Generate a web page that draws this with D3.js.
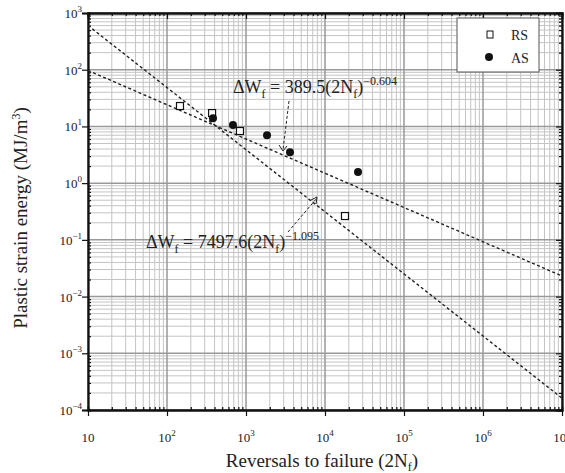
<!DOCTYPE html>
<html><head><meta charset="utf-8">
<script src="https://cdn.jsdelivr.net/npm/d3@7"></script>
<style>body{margin:0;background:#fff}svg text{font-family:"Liberation Serif","Times New Roman",serif;fill:#222}</style>
</head><body><svg id="c" width="565" height="473"></svg>
<script>
// Data
const xDomain = [10, 1e7];
const yDomain = [1e-4, 1e3];
const xTickExps = [1,2,3,4,5,6,7];
const yTickExps = [-4,-3,-2,-1,0,1,2,3];
const rsX = [146, 372, 839, 17900];
const rsY = [22.9, 17.2, 8.3, 0.263];
const asX = [382, 684, 1845, 3606, 26180];
const asY = [14, 10.6, 7.0, 3.5, 1.57];
// fitted power laws: y = A * x^B
const fitA = [389.5, 7497.6];
const fitB = [-0.604, -1.095];
const fitLabels = ["389.5", "7497.6"];
const fitExpLabels = ["\u22120.604", "\u22121.095"];

const svg = d3.select("#c");
const m = {l:88, r:562, t:13, b:410};
const x = d3.scaleLog().domain(xDomain).range([m.l, m.r]);
const y = d3.scaleLog().domain(yDomain).range([m.b, m.t]);

// grid
const minorX = [], minorY = [];
for (let e = 1; e < 7; e++) for (let k = 2; k <= 9; k++) minorX.push(k*Math.pow(10,e));
for (let e = -4; e < 3; e++) for (let k = 2; k <= 9; k++) minorY.push(k*Math.pow(10,e));
const g = svg.append("g");
g.selectAll(".mx").data(minorX).join("line").attr("x1",d=>x(d)).attr("x2",d=>x(d)).attr("y1",m.t).attr("y2",m.b).attr("stroke","#c4c4c4").attr("stroke-width",1);
g.selectAll(".my").data(minorY).join("line").attr("y1",d=>y(d)).attr("y2",d=>y(d)).attr("x1",m.l).attr("x2",m.r).attr("stroke","#c4c4c4").attr("stroke-width",1);
g.selectAll(".Mx").data(xTickExps).join("line").attr("x1",d=>x(Math.pow(10,d))).attr("x2",d=>x(Math.pow(10,d))).attr("y1",m.t).attr("y2",m.b).attr("stroke","#999").attr("stroke-width",1.5);
g.selectAll(".My").data(yTickExps).join("line").attr("y1",d=>y(Math.pow(10,d))).attr("y2",d=>y(Math.pow(10,d))).attr("x1",m.l).attr("x2",m.r).attr("stroke","#999").attr("stroke-width",1.5);

// axes
const tv = e => Math.pow(10,e);
const xb = d3.axisBottom(x).tickValues(xTickExps.map(tv)).tickFormat("").tickSizeInner(6).tickSizeOuter(0);
const xbm = d3.axisBottom(x).tickValues(minorX).tickFormat("").tickSize(-3);
const xt = d3.axisTop(x).tickValues(xTickExps.map(tv)).tickFormat("").tickSize(-6);
const xtm = d3.axisTop(x).tickValues(minorX).tickFormat("").tickSize(-3);
const yl = d3.axisLeft(y).tickValues(yTickExps.map(tv)).tickFormat("").tickSize(6);
const ylm = d3.axisLeft(y).tickValues(minorY).tickFormat("").tickSize(-3);
const yr = d3.axisRight(y).tickValues(yTickExps.map(tv)).tickFormat("").tickSize(-6);
const yrm = d3.axisRight(y).tickValues(minorY).tickFormat("").tickSize(-3);
svg.append("g").attr("transform",`translate(0,${m.b})`).call(xb);
svg.append("g").attr("transform",`translate(0,${m.b})`).call(xbm);
svg.append("g").attr("transform",`translate(0,${m.t})`).call(xt);
svg.append("g").attr("transform",`translate(0,${m.t})`).call(xtm);
svg.append("g").attr("transform",`translate(${m.l},0)`).call(yl);
svg.append("g").attr("transform",`translate(${m.l},0)`).call(ylm);
svg.append("g").attr("transform",`translate(${m.r},0)`).call(yr);
svg.append("g").attr("transform",`translate(${m.r},0)`).call(yrm);
svg.selectAll(".domain").attr("stroke","#111").attr("stroke-width",1.8);
svg.selectAll(".tick line").attr("stroke","#111").attr("stroke-width",1.2);

// tick labels
function powLabel(sel, base, exp) {
  sel.append("tspan").text(base);
  if (exp !== null) sel.append("tspan").attr("dy",-6).attr("font-size",9).text(exp);
}
xTickExps.forEach(e => {
  const t = svg.append("text").attr("x", x(tv(e))).attr("y", 442).attr("text-anchor","middle").attr("font-size",13);
  if (e === 1) powLabel(t, "10", null); else powLabel(t, "10", String(e));
});
yTickExps.forEach(e => {
  const t = svg.append("text").attr("x", 82).attr("y", y(tv(e))+5).attr("text-anchor","end").attr("font-size",13);
  powLabel(t, "10", e < 0 ? "\u2212"+(-e) : String(e));
});

// axis titles
const xtTitle = svg.append("text").attr("x",322).attr("y",467).attr("text-anchor","middle").attr("font-size",19);
xtTitle.append("tspan").text("Reversals to failure (2N");
xtTitle.append("tspan").attr("dy",4).attr("font-size",12).text("f");
xtTitle.append("tspan").attr("dy",-4).text(")");
const ytTitle = svg.append("text").attr("transform",`translate(27,218) rotate(-90)`).attr("text-anchor","middle").attr("font-size",19);
ytTitle.append("tspan").text("Plastic strain energy (MJ/m");
ytTitle.append("tspan").attr("dy",-7).attr("font-size",12).text("3");
ytTitle.append("tspan").attr("dy",7).text(")");

// clip
svg.append("clipPath").attr("id","pc").append("rect").attr("x",m.l).attr("y",m.t).attr("width",m.r-m.l).attr("height",m.b-m.t);

// fitted lines
const line = d3.line().x(d=>x(d[0])).y(d=>y(d[1]));
fitA.forEach((A,i) => {
  const pts = xDomain.map(v => [v, A*Math.pow(v, fitB[i])]);
  svg.append("path").attr("d", line(pts)).attr("clip-path","url(#pc)").attr("fill","none").attr("stroke","#222").attr("stroke-width",1.4).attr("stroke-dasharray","3,2.5");
});

// points
svg.selectAll(".rs").data(rsX.map((v,i)=>[v,rsY[i]])).join("rect")
  .attr("x",d=>x(d[0])-3.5).attr("y",d=>y(d[1])-3.5).attr("width",7).attr("height",7)
  .attr("fill","#fff").attr("stroke","#111").attr("stroke-width",1.2);
svg.selectAll(".as").data(asX.map((v,i)=>[v,asY[i]])).join("circle")
  .attr("cx",d=>x(d[0])).attr("cy",d=>y(d[1])).attr("r",4).attr("fill","#111");

// equation labels
function eqLabel(px, py, i) {
  const t = svg.append("text").attr("x",px).attr("y",py).attr("font-size",18);
  t.append("tspan").text("\u0394W");
  t.append("tspan").attr("dy",5).attr("font-size",12).text("f");
  t.append("tspan").attr("dy",-5).text(" = " + fitLabels[i] + "(2N");
  t.append("tspan").attr("dy",5).attr("font-size",12).text("f");
  t.append("tspan").attr("dy",-5).text(")");
  t.append("tspan").attr("dy",-8).attr("font-size",12).text(fitExpLabels[i]);
}
eqLabel(233, 93, 0);
eqLabel(146, 248, 1);
// leader lines
svg.append("path").attr("d","M289,101 L283,150").attr("stroke","#222").attr("stroke-dasharray","3,2").attr("fill","none");
svg.append("path").attr("d","M279,145 L283,151 L287,146").attr("stroke","#222").attr("fill","none");
svg.append("path").attr("d","M288,232 L317,198").attr("stroke","#222").attr("stroke-dasharray","3,2").attr("fill","none");
svg.append("path").attr("d","M311,200 L317,197 L316,204").attr("stroke","#222").attr("fill","none");

// legend
svg.append("rect").attr("x",457).attr("y",18).attr("width",82).attr("height",54).attr("fill","#fff").attr("stroke","#555");
svg.append("rect").attr("x",487).attr("y",31).attr("width",6).attr("height",7).attr("fill","#fff").attr("stroke","#111");
svg.append("circle").attr("cx",489).attr("cy",57).attr("r",4).attr("fill","#111");
svg.append("text").attr("x",511).attr("y",40).attr("font-size",14).text("RS");
svg.append("text").attr("x",511).attr("y",63).attr("font-size",14).text("AS");
</script></body></html>
